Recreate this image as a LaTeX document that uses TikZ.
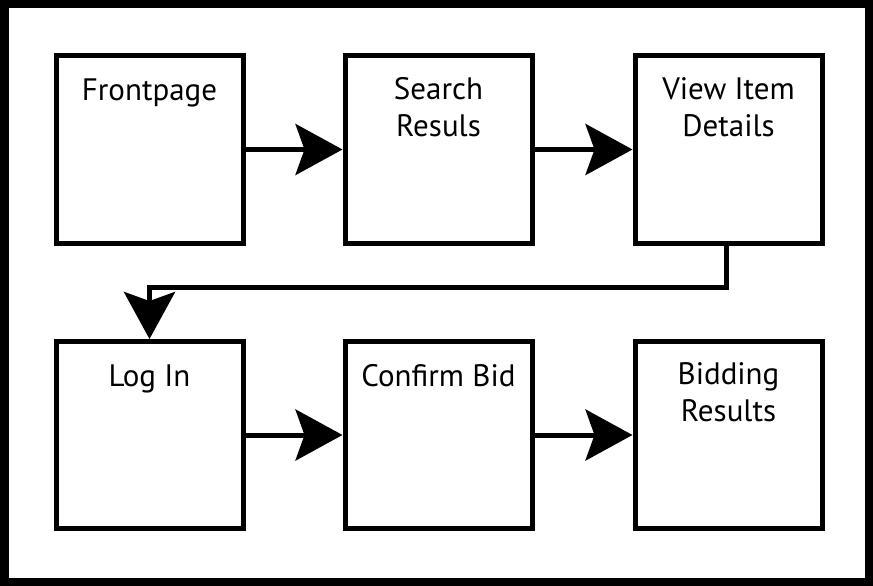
\documentclass[tikz,border=0pt]{standalone}
\usepackage{fontspec}
\setmainfont{PT Sans}
\usetikzlibrary{arrows.meta}
\begin{document}
\begin{tikzpicture}[x=1pt,y=-1pt,
  pagebox/.style={draw=black, line width=5pt, minimum width=187pt, minimum height=187pt, inner sep=0pt, fill=white},
  lbl/.style={font=\fontsize{31}{36.7}\selectfont, align=center, inner sep=0pt, anchor=base},
  flow/.style={line width=5pt, -{Stealth[length=47pt, width=51pt, inset=9pt]}},
]
\useasboundingbox (0,0) rectangle (873,586);
\draw[line width=8.5pt] (4.25,4.25) rectangle (868.75,581.75);
\node[pagebox] (f) at (149.5,149.5) {};
\node[pagebox] (s) at (438.5,149.5) {};
\node[pagebox] (v) at (728.5,149.5) {};
\node[pagebox] (l) at (149.5,435) {};
\node[pagebox] (c) at (438.5,435) {};
\node[pagebox] (b) at (728.5,435) {};
\node[lbl] (ft) at ([yshift=-47pt]f.north) {Frontpage};
\node[lbl] (st) at ([yshift=-82.5pt]s.north) {Search\\Resuls};
\node[lbl] (vt) at ([yshift=-82.5pt]v.north) {View Item\\Details};
\node[lbl] (lt) at ([yshift=-47pt]l.north) {Log In};
\node[lbl] (ct) at ([yshift=-47pt]c.north) {Confirm Bid};
\node[lbl] (bt) at ([yshift=-82.5pt]b.north) {Bidding\\Results};
\draw[flow] (f.east) -- (s.west);
\draw[flow] (s.east) -- (v.west);
\draw[flow] (l.east) -- (c.west);
\draw[flow] (c.east) -- (b.west);
\draw[flow] ([xshift=-2.5pt]v.south) -- ++(0,42) -| (l.north);
\end{tikzpicture}
\end{document}
